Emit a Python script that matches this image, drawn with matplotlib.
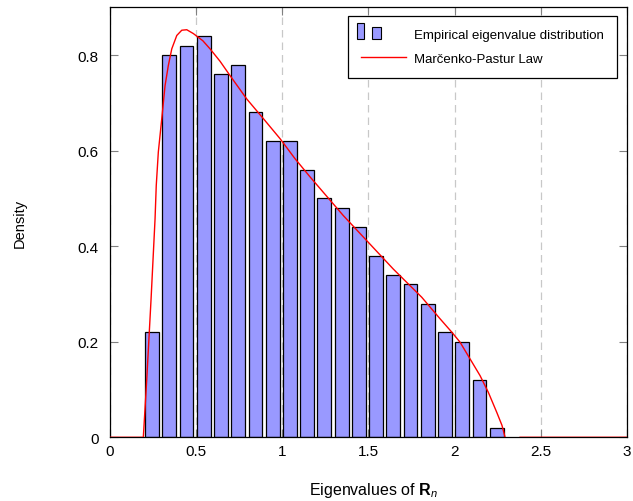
import numpy as np
import matplotlib
matplotlib.use("Agg")
import matplotlib.pyplot as plt
from matplotlib.patches import Rectangle
from matplotlib.legend_handler import HandlerBase

plt.rcParams['font.family'] = ['Liberation Sans', 'DejaVu Sans']
plt.rcParams['mathtext.fontset'] = 'custom'
plt.rcParams['mathtext.rm'] = 'Liberation Sans'
plt.rcParams['mathtext.bf'] = 'Liberation Sans:bold'
plt.rcParams['mathtext.it'] = 'Liberation Sans:italic'

# histogram bins (centres) and heights
bin_centers = [0.245 + 0.1 * k for k in range(21)]
density = [0.22, 0.80, 0.82, 0.84, 0.76, 0.78, 0.68, 0.62, 0.62, 0.56, 0.50,
           0.48, 0.44, 0.38, 0.34, 0.32, 0.28, 0.22, 0.20, 0.12, 0.02]

# Marcenko-Pastur curve
mp_x = [0.0, 0.195, 0.215, 0.24, 0.263, 0.27, 0.282, 0.302, 0.321, 0.340, 0.360,
        0.389, 0.418, 0.447, 0.485, 0.54, 0.582, 0.64, 0.698, 0.795, 0.891,
        0.988, 1.075, 1.162, 1.355, 1.5, 1.645, 1.81, 1.916, 1.984, 2.032,
        2.09, 2.148, 2.196, 2.245, 2.275, 2.293, np.nan, 2.38, 3.0]
mp_y = [0.0, 0.0, 0.122, 0.29, 0.457, 0.527, 0.597, 0.667, 0.736, 0.778, 0.813,
        0.841, 0.852, 0.853, 0.845, 0.83, 0.813, 0.787, 0.757, 0.708, 0.667,
        0.625, 0.583, 0.545, 0.464, 0.408, 0.352, 0.293, 0.248, 0.22, 0.199,
        0.164, 0.129, 0.094, 0.052, 0.025, 0.0, np.nan, 0.0, 0.0]

bar_color = '#9999ff'


class TwoBars(HandlerBase):
    # pgfplots-style ybar legend image: two little bars
    def create_artists(self, legend, orig, xd, yd, w, h, fontsize, trans):
        r1 = Rectangle((xd - 0.09 * w, yd - 0.05 * h), 0.16 * w, 1.75 * h,
                       facecolor=bar_color, edgecolor='black', lw=0.8, transform=trans)
        r2 = Rectangle((xd + 0.26 * w, yd - 0.05 * h), 0.18 * w, 1.3 * h,
                       facecolor=bar_color, edgecolor='black', lw=0.8, transform=trans)
        return [r1, r2]


fig = plt.figure(figsize=(6.33, 5.02), dpi=100)
ax = fig.add_axes([0.1733, 0.1269, 0.8172, 0.8566])

bars = ax.bar(bin_centers, density, width=0.08, color=bar_color,
              edgecolor='black', linewidth=0.9, zorder=2,
              label='Empirical eigenvalue distribution')
line, = ax.plot(mp_x, mp_y, color='red', lw=1.0, zorder=3,
                label='Marčenko-Pastur Law')

ax.set_xlim(0, 3)
ax.set_ylim(0, 0.9)
ax.set_xticks([0, 0.5, 1, 1.5, 2, 2.5, 3])
ax.set_xticklabels(['0', '0.5', '1', '1.5', '2', '2.5', '3'])
ax.set_yticks([0, 0.2, 0.4, 0.6, 0.8])
ax.set_yticklabels(['0', '0.2', '0.4', '0.6', '0.8'])
ax.tick_params(direction='in', length=6, color='#808080', labelsize=11,
               top=True, right=True)
ax.tick_params(axis='y', pad=8)
ax.tick_params(axis='x', pad=5)
ax.xaxis.grid(True, linestyle=(0, (6, 4)), color='#c8c8c8', lw=0.9, zorder=0)
ax.set_axisbelow(True)
for s in ax.spines.values():
    s.set_linewidth(0.9)

ax.set_xlabel(r'Eigenvalues of $\mathbf{R}_n$', fontsize=11.5)
ax.set_ylabel('Density', fontsize=10.5)
ax.xaxis.set_label_coords(0.51, -0.1)
ax.yaxis.set_label_coords(-0.16, 0.5)

leg = ax.legend([bars, line], ['Empirical eigenvalue distribution', 'Marčenko-Pastur Law'],
                handler_map={type(bars): TwoBars()},
                loc='upper right', bbox_to_anchor=(0.98, 0.98), fontsize=9.5,
                frameon=True, fancybox=False, edgecolor='black', framealpha=1,
                handlelength=3.4, handletextpad=0.6, borderpad=1.0,
                labelspacing=0.85, borderaxespad=0)
leg.get_frame().set_linewidth(0.9)

fig.savefig('out.png', dpi=100)
